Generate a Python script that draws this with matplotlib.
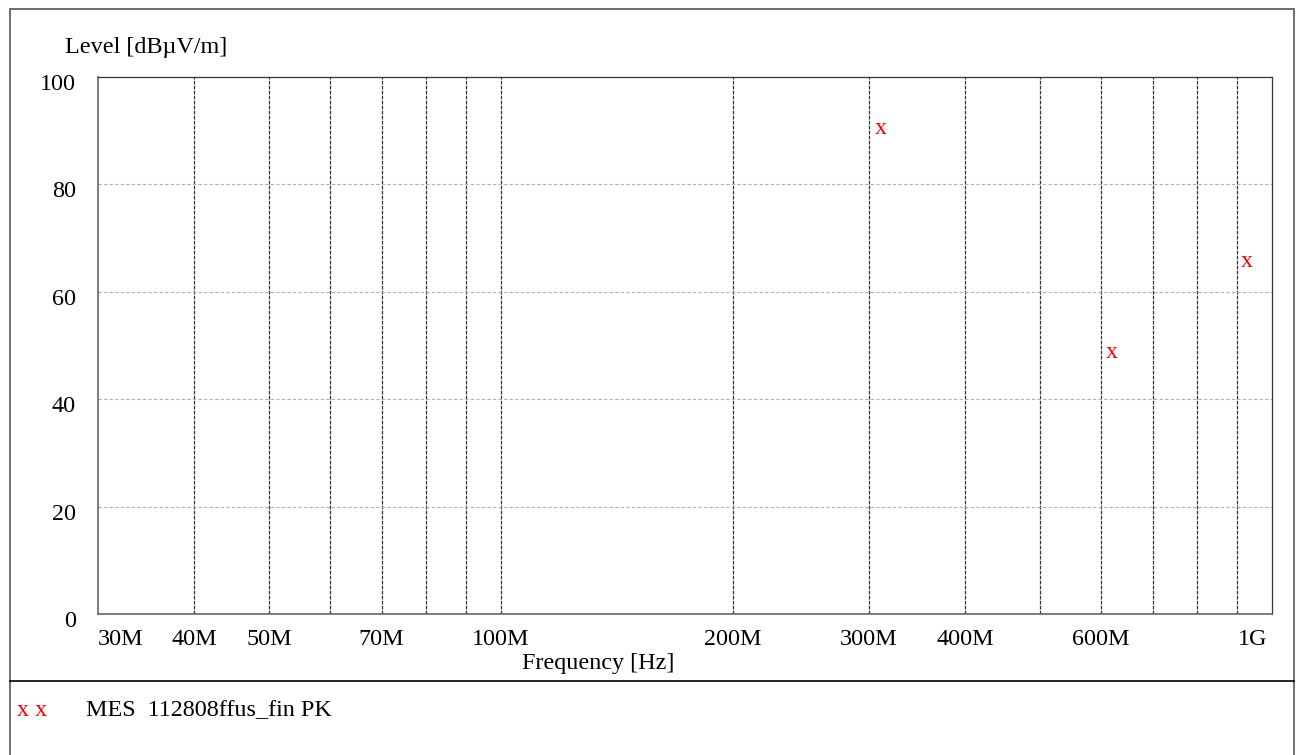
import matplotlib
matplotlib.use("Agg")
import matplotlib.pyplot as plt
import matplotlib.transforms as mtransforms
from matplotlib.patches import Rectangle
from matplotlib.lines import Line2D

plt.rcParams['font.family'] = ['Liberation Serif', 'DejaVu Serif']

# measured peaks (frequency in Hz, level in dBuV/m)
peak_freq = [311e6, 619e6, 928e6]
peak_level = [90.4, 48.7, 65.6]

grid_freqs = [40e6, 50e6, 60e6, 70e6, 80e6, 90e6, 100e6, 200e6, 300e6,
              400e6, 500e6, 600e6, 700e6, 800e6, 900e6]
tick_freqs = [30e6, 40e6, 50e6, 70e6, 100e6, 200e6, 300e6, 400e6, 600e6, 1e9]
tick_labels = ["30M", "40M", "50M", "70M", "100M", "200M", "300M", "400M", "600M", "1G"]
level_ticks = [0, 20, 40, 60, 80, 100]

FS = 17.4

fig = plt.figure(figsize=(13, 7.55), dpi=100)
ax = fig.add_axes([98 / 1300, 1 - 614 / 755, (1272 - 98) / 1300, (614 - 77) / 755])

ax.set_xscale('log')
ax.set_xlim(30e6, 1e9)
ax.set_ylim(0, 100)

for f in grid_freqs:
    ax.axvline(f, color='#333333', lw=0.9, ls=(0, (3, 1)), zorder=1)
for lv in level_ticks[1:-1]:
    ax.axhline(lv, color='#b0b0b0', lw=0.8, ls=(0, (3, 2)), zorder=1)

for f, lv in zip(peak_freq, peak_level):
    ax.text(f, lv, "x", color='red', fontsize=FS, ha='center', va='center', zorder=3)

ax.set_xticks(tick_freqs)
ax.set_xticklabels(tick_labels)
ax.minorticks_off()
ax.set_yticks(level_ticks)
ax.tick_params(length=0, labelsize=FS)
ax.tick_params(axis='x', pad=11)
ax.tick_params(axis='y', pad=16)
xl = ax.get_xticklabels()
xl[0].set_ha('left')
xl[-1].set_ha('right')
xl[-1].set_transform(xl[-1].get_transform() +
                     mtransforms.ScaledTranslation(-5 / 100, 0, fig.dpi_scale_trans))
for lab in ax.get_yticklabels():
    lab.set_transform(lab.get_transform() +
                      mtransforms.ScaledTranslation(0, -5 / 100, fig.dpi_scale_trans))

for s in ['left', 'bottom']:
    ax.spines[s].set_color('#666666')
    ax.spines[s].set_linewidth(1.2)
for s in ['top', 'right']:
    ax.spines[s].set_color('#333333')
    ax.spines[s].set_linewidth(0.9)
    ax.spines[s].set_linestyle((0, (3, 1)))

fig.text(598 / 1300, 1 - 663 / 755, "Frequency [Hz]", fontsize=FS, ha='center', va='center')
fig.text(65 / 1300, 1 - 47 / 755, "Level [dBµV/m]", fontsize=FS, ha='left', va='center')

# outer frame and legend box
fig.patches.append(Rectangle((10 / 1300, -0.01), (1294 - 10) / 1300, 1 - 9 / 755 + 0.01,
                             transform=fig.transFigure, fill=False,
                             edgecolor='#555555', lw=1.2))
fig.lines.append(Line2D([10 / 1300, 1294 / 1300], [1 - 681 / 755] * 2,
                        transform=fig.transFigure, color='black', lw=1.2))
fig.text(17 / 1300, 1 - 711 / 755, "x x", color='red', fontsize=FS, ha='left', va='center')
fig.text(86 / 1300, 1 - 711 / 755, "MES  112808ffus_fin PK", fontsize=FS,
         ha='left', va='center')

fig.savefig("out.png", dpi=100)
